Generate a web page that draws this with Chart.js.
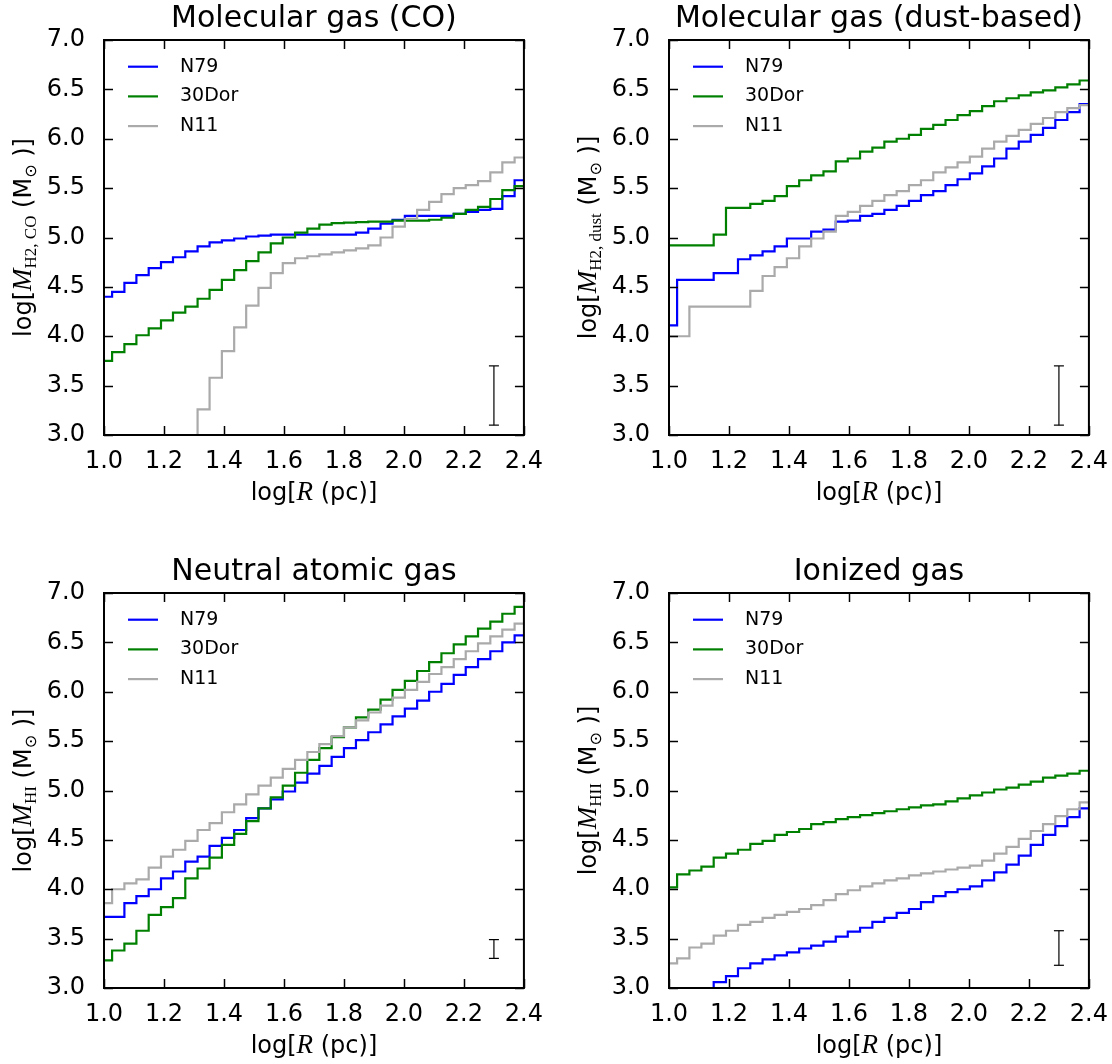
<!DOCTYPE html>
<html>
<head>
<meta charset="utf-8">
<title>Cumulative gas mass profiles</title>
<script src="https://cdn.jsdelivr.net/npm/chart.js@4.4.0/dist/chart.umd.min.js"></script>
<style>
  html, body { margin: 0; padding: 0; background: #fff; }
  #page { position: relative; width: 1112px; height: 1064px; overflow: hidden; }
  #page canvas { position: absolute; }
</style>
</head>
<body>
<div id="page">
  <canvas id="p-co" width="547" height="511" style="left:0;top:0"></canvas>
  <canvas id="p-dust" width="547" height="511" style="left:565px;top:0"></canvas>
  <canvas id="p-hi" width="547" height="511" style="left:0;top:553px"></canvas>
  <canvas id="p-hii" width="547" height="511" style="left:565px;top:553px"></canvas>
</div>
<script>
/* step profiles: log R bin edges (left edge of each level), then one level per bin */
const EDGES = [1.000, 1.027, 1.068, 1.108, 1.149, 1.190, 1.230, 1.271, 1.312, 1.352,
               1.393, 1.434, 1.474, 1.515, 1.556, 1.596, 1.637, 1.678, 1.718, 1.759,
               1.800, 1.840, 1.881, 1.922, 1.962, 2.003, 2.044, 2.084, 2.125, 2.166,
               2.206, 2.247, 2.288, 2.328, 2.369];
const X_MAX = 2.4;
const X_TICKS = [1.0, 1.2, 1.4, 1.6, 1.8, 2.0, 2.2, 2.4];
const Y_TICKS = [3.0, 3.5, 4.0, 4.5, 5.0, 5.5, 6.0, 6.5, 7.0];
const LABELS = ['N79', '30Dor', 'N11'];
const COLORS = ['#0000ff', '#008000', '#aaaaaa'];

// Molecular gas (CO)
const CO_N79   = [4.40, 4.45, 4.54, 4.62, 4.69, 4.75, 4.80, 4.86, 4.91, 4.95, 4.97, 4.99, 5.01, 5.02, 5.03, 5.03, 5.03, 5.03,
                  5.03, 5.03, 5.03, 5.05, 5.09, 5.14, 5.18, 5.22, 5.22, 5.22, 5.22, 5.24, 5.26, 5.28, 5.29, 5.42, 5.58];
const CO_30DOR = [3.75, 3.84, 3.92, 4.01, 4.08, 4.16, 4.24, 4.30, 4.38, 4.47, 4.57, 4.67, 4.76, 4.85, 4.94, 5.00, 5.05, 5.09,
                  5.13, 5.145, 5.15, 5.155, 5.16, 5.16, 5.17, 5.17, 5.17, 5.18, 5.20, 5.24, 5.28, 5.31, 5.39, 5.48, 5.52];
const CO_N11   = [null, null, null, null, null, null, null, 2.90, 3.26, 3.58, 3.85, 4.09, 4.31, 4.49, 4.64, 4.74, 4.79, 4.81,
                  4.83, 4.85, 4.87, 4.89, 4.92, 5.00, 5.11, 5.19, 5.28, 5.36, 5.44, 5.50, 5.53, 5.57, 5.66, 5.76, 5.81];
const CO_ERR   = [3.10, 3.70];

// Molecular gas (dust-based)
const DUST_N79   = [4.11, 4.57, 4.57, 4.57, 4.64, 4.64, 4.78, 4.82, 4.86, 4.91, 4.99, 4.99, 5.06, 5.08, 5.16, 5.17, 5.22, 5.24,
                    5.28, 5.32, 5.37, 5.43, 5.47, 5.53, 5.59, 5.65, 5.72, 5.80, 5.90, 5.97, 6.04, 6.11, 6.19, 6.27, 6.35];
const DUST_30DOR = [4.92, 4.92, 4.92, 4.92, 5.03, 5.30, 5.30, 5.34, 5.37, 5.42, 5.52, 5.58, 5.63, 5.67, 5.77, 5.80, 5.87, 5.91,
                    5.97, 6.00, 6.04, 6.10, 6.14, 6.19, 6.24, 6.28, 6.33, 6.38, 6.41, 6.44, 6.47, 6.49, 6.52, 6.55, 6.59];
const DUST_N11   = [4.00, 4.00, 4.30, 4.30, 4.30, 4.30, 4.30, 4.46, 4.61, 4.70, 4.79, 4.91, 4.99, 5.06, 5.22, 5.26, 5.32, 5.37,
                    5.43, 5.47, 5.53, 5.58, 5.66, 5.71, 5.76, 5.82, 5.90, 5.97, 6.03, 6.09, 6.15, 6.21, 6.27, 6.31, 6.34];
const DUST_ERR   = [3.10, 3.70];

// Neutral atomic gas
const HI_N79   = [3.72, 3.72, 3.86, 3.93, 4.00, 4.11, 4.18, 4.28, 4.33, 4.44, 4.52, 4.60, 4.72, 4.82, 4.91, 4.99, 5.08, 5.17,
                  5.25, 5.34, 5.43, 5.51, 5.59, 5.67, 5.75, 5.83, 5.91, 6.00, 6.08, 6.17, 6.25, 6.33, 6.41, 6.50, 6.57];
const HI_30DOR = [3.28, 3.38, 3.45, 3.58, 3.74, 3.82, 3.91, 4.11, 4.21, 4.32, 4.45, 4.56, 4.69, 4.82, 4.93, 5.05, 5.18, 5.31,
                  5.43, 5.54, 5.64, 5.74, 5.82, 5.92, 6.02, 6.11, 6.21, 6.30, 6.39, 6.48, 6.56, 6.64, 6.71, 6.79, 6.86];
const HI_N11   = [3.86, 4.00, 4.06, 4.10, 4.22, 4.33, 4.40, 4.49, 4.60, 4.67, 4.78, 4.86, 4.96, 5.05, 5.13, 5.22, 5.31, 5.39,
                  5.47, 5.55, 5.64, 5.71, 5.79, 5.86, 5.94, 6.02, 6.10, 6.18, 6.25, 6.33, 6.41, 6.49, 6.56, 6.63, 6.69];
const HI_ERR   = [3.30, 3.49];

// Ionized gas
const HII_N79   = [null, null, null, 2.95, 3.06, 3.12, 3.20, 3.25, 3.29, 3.33, 3.36, 3.40, 3.43, 3.47, 3.52, 3.57, 3.61, 3.67,
                   3.71, 3.76, 3.80, 3.87, 3.93, 3.97, 4.00, 4.03, 4.09, 4.17, 4.25, 4.34, 4.45, 4.55, 4.64, 4.73, 4.82];
const HII_30DOR = [4.02, 4.15, 4.19, 4.23, 4.32, 4.36, 4.40, 4.46, 4.49, 4.55, 4.58, 4.61, 4.66, 4.68, 4.71, 4.73, 4.75, 4.77,
                   4.79, 4.81, 4.83, 4.85, 4.86, 4.89, 4.92, 4.95, 4.98, 5.01, 5.03, 5.06, 5.09, 5.13, 5.15, 5.17, 5.20];
const HII_N11   = [3.25, 3.30, 3.41, 3.45, 3.53, 3.58, 3.64, 3.67, 3.71, 3.74, 3.77, 3.80, 3.84, 3.89, 3.95, 3.99, 4.03, 4.06,
                   4.09, 4.11, 4.14, 4.16, 4.18, 4.20, 4.22, 4.24, 4.29, 4.36, 4.43, 4.51, 4.59, 4.66, 4.74, 4.81, 4.88];
const HII_ERR   = [3.23, 3.58];

const ERR_X = 2.3;

const SANS = '"DejaVu Sans", "Bitstream Vera Sans", sans-serif';
const SERIF = '"Liberation Serif", "DejaVu Serif", serif';
const TICK_LEN = 9;

const PANELS = [
    { id: 'p-co',   title: 'Molecular gas (CO)',          sub: 'H2, CO',   series: [CO_N79, CO_30DOR, CO_N11],       err: CO_ERR },
    { id: 'p-dust', title: 'Molecular gas (dust-based)',  sub: 'H2, dust', series: [DUST_N79, DUST_30DOR, DUST_N11], err: DUST_ERR },
    { id: 'p-hi',   title: 'Neutral atomic gas',          sub: 'HI',       series: [HI_N79, HI_30DOR, HI_N11],       err: HI_ERR },
    { id: 'p-hii',  title: 'Ionized gas',                 sub: 'HII',      series: [HII_N79, HII_30DOR, HII_N11],    err: HII_ERR }
];

function stepPoints(levels) {
    const pts = EDGES.map((x, i) => ({ x: x, y: levels[i] }));
    pts.push({ x: X_MAX, y: levels[levels.length - 1] });
    return pts;
}

// draw a row of text pieces (mixed fonts / subscripts), centred on x
function drawPieces(ctx, pieces, x, y) {
    let total = 0;
    pieces.forEach(p => {
        ctx.font = p.font;
        p.w = ctx.measureText(p.text).width;
        total += p.w;
    });
    let cx = x - total / 2;
    pieces.forEach(p => {
        ctx.font = p.font;
        ctx.fillText(p.text, cx, y + (p.dy || 0));
        cx += p.w;
    });
}

const decorPlugin = {
    id: 'decor',
    afterDatasetsDraw(chart, args, opts) {
        const { ctx, chartArea: a, scales } = chart;
        const xs = scales.x, ys = scales.y;
        const midX = (a.left + a.right) / 2;
        const midY = (a.top + a.bottom) / 2;
        ctx.save();

        // inward ticks on all four sides
        ctx.strokeStyle = '#000';
        ctx.lineWidth = 1.5;
        ctx.beginPath();
        xs.ticks.forEach(t => {
            const px = Math.round(xs.getPixelForValue(t.value)) + 0.5;
            ctx.moveTo(px, a.bottom); ctx.lineTo(px, a.bottom - TICK_LEN);
            ctx.moveTo(px, a.top); ctx.lineTo(px, a.top + TICK_LEN);
        });
        ys.ticks.forEach(t => {
            const py = Math.round(ys.getPixelForValue(t.value)) + 0.5;
            ctx.moveTo(a.left, py); ctx.lineTo(a.left + TICK_LEN, py);
            ctx.moveTo(a.right, py); ctx.lineTo(a.right - TICK_LEN, py);
        });
        ctx.stroke();

        // frame
        ctx.lineWidth = 2;
        ctx.strokeRect(a.left, a.top, a.right - a.left, a.bottom - a.top);

        // legend (no frame, upper left)
        ctx.fillStyle = '#000';
        ctx.textBaseline = 'middle';
        ctx.textAlign = 'left';
        ctx.font = '19px ' + SANS;
        LABELS.forEach((lab, i) => {
            const ly = a.top + 26.7 + i * 29.7;
            ctx.strokeStyle = COLORS[i];
            ctx.lineWidth = 2.2;
            ctx.beginPath();
            ctx.moveTo(a.left + 24, ly);
            ctx.lineTo(a.left + 54, ly);
            ctx.stroke();
            ctx.fillText(lab, a.left + 76, ly);
        });

        // title
        ctx.textBaseline = 'alphabetic';
        ctx.textAlign = 'left';
        ctx.font = '30px ' + SANS;
        const tw = ctx.measureText(opts.title).width;
        ctx.fillText(opts.title, midX - tw / 2, a.top - 13);

        // x label: log[R (pc)]
        drawPieces(ctx, [
            { text: 'log[', font: '24px ' + SANS },
            { text: 'R', font: 'italic 27px ' + SERIF },
            { text: ' (pc)]', font: '24px ' + SANS }
        ], midX, a.bottom + 65);

        // y label: log[M_sub (M_sun)]
        ctx.translate(a.left - 73, midY);
        ctx.rotate(-Math.PI / 2);
        drawPieces(ctx, [
            { text: 'log[', font: '24px ' + SANS },
            { text: 'M', font: 'italic 27px ' + SERIF },
            { text: opts.sub, font: '17px ' + SERIF, dy: 5 },
            { text: ' (M', font: '24px ' + SANS },
            { text: '\u2299', font: '16px ' + SANS, dy: 5 },
            { text: ' )]', font: '24px ' + SANS }
        ], 0, 0);

        ctx.restore();
    }
};

function initPanel(panel) {
    const datasets = panel.series.map((levels, i) => ({
        label: LABELS[i],
        data: stepPoints(levels),
        borderColor: COLORS[i],
        borderWidth: 2.2,
        pointRadius: 0,
        stepped: 'before',
        fill: false,
        clip: 0,
        order: 3 - i
    }));
    // representative uncertainty bar
    datasets.push({
        label: 'err',
        data: [{ x: ERR_X, y: panel.err[0] }, { x: ERR_X, y: panel.err[1] }],
        borderColor: '#000',
        borderWidth: 1.2,
        pointStyle: 'line',
        pointRadius: 5,
        pointBorderWidth: 1.2,
        pointBorderColor: '#000',
        pointBackgroundColor: '#000',
        fill: false,
        order: 0
    });

    const tickFont = { family: SANS, size: 24 };

    new Chart(document.getElementById(panel.id), {
        type: 'line',
        data: { datasets: datasets },
        options: {
            responsive: false,
            animation: false,
            events: [],
            layout: { padding: { left: 0, top: 40, right: 23, bottom: 0 } },
            plugins: {
                legend: { display: false },
                tooltip: { enabled: false },
                decor: { title: panel.title, sub: panel.sub }
            },
            scales: {
                x: {
                    type: 'linear',
                    min: X_TICKS[0],
                    max: X_TICKS[X_TICKS.length - 1],
                    afterBuildTicks: s => { s.ticks = X_TICKS.map(v => ({ value: v })); },
                    afterFit: s => { s.height = 76; },
                    grid: { display: false },
                    border: { display: false },
                    ticks: {
                        color: '#000',
                        font: tickFont,
                        padding: 4,
                        maxRotation: 0,
                        autoSkip: false,
                        callback: v => Number(v).toFixed(1)
                    }
                },
                y: {
                    type: 'linear',
                    min: Y_TICKS[0],
                    max: Y_TICKS[Y_TICKS.length - 1],
                    afterBuildTicks: s => { s.ticks = Y_TICKS.map(v => ({ value: v })); },
                    afterFit: s => { s.width = 104; },
                    grid: { display: false },
                    border: { display: false },
                    ticks: {
                        color: '#000',
                        font: tickFont,
                        padding: 11,
                        autoSkip: false,
                        callback: v => Number(v).toFixed(1)
                    }
                }
            }
        },
        plugins: [decorPlugin]
    });
}

document.addEventListener('DOMContentLoaded', () => {
    PANELS.forEach(initPanel);
});
</script>
</body>
</html>
